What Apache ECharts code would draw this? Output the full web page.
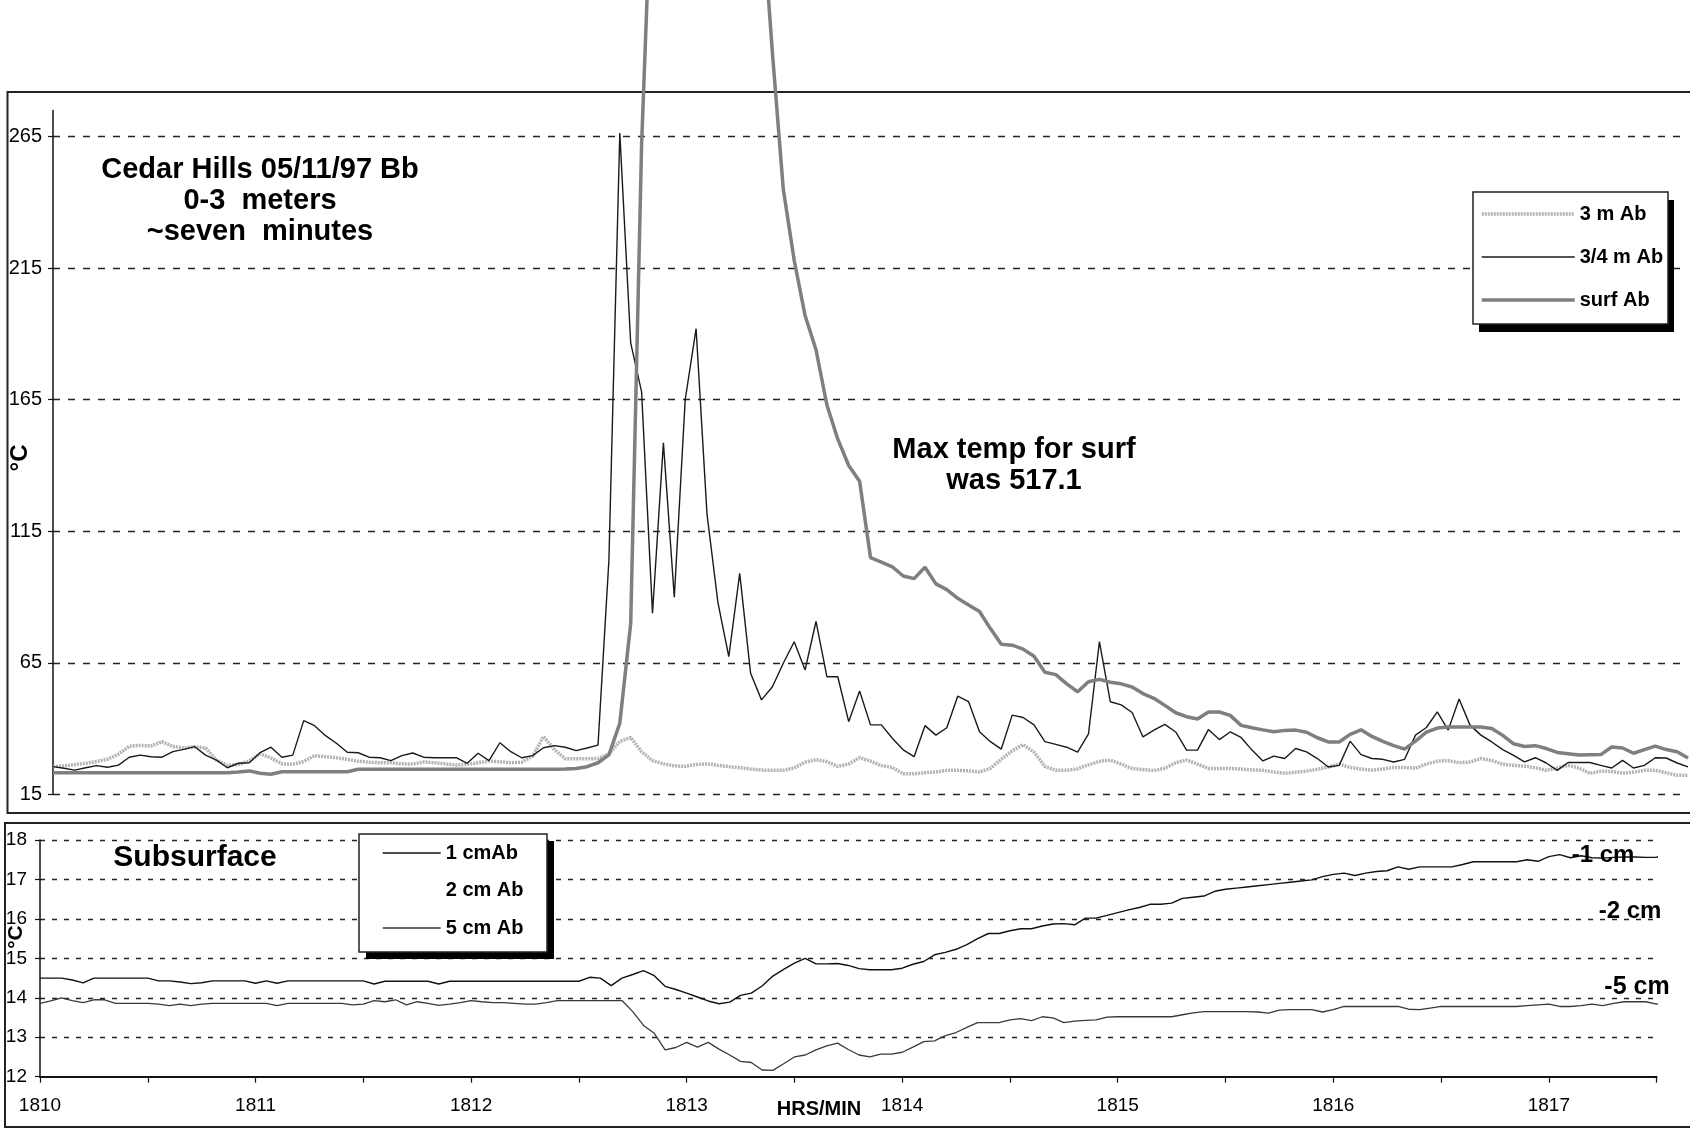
<!DOCTYPE html>
<html>
<head>
<meta charset="utf-8">
<title>Cedar Hills 05/11/97 Bb</title>
<script src="https://cdn.jsdelivr.net/npm/echarts@6/dist/echarts.min.js"></script>
<style>
  html, body { margin: 0; padding: 0; background: #fff; }
  #chart { width: 1690px; height: 1133px; }
</style>
</head>
<body>
<div id="chart"></div>
<script>
// Logger readings: one sample every 3 s starting at 18:10 (HRS/MIN, minutes as decimals)
const START_MIN = 1810;
const STEP_MIN = 0.05;

// Axis ticks and labels
const upperTempTicks = [15, 65, 115, 165, 215, 265];
const timeLabels = [1810, 1811, 1812, 1813, 1814, 1815, 1816, 1817];
const timeTicks = [1810, 1810.5, 1811, 1811.5, 1812, 1812.5, 1813, 1813.5,
                   1814, 1814.5, 1815, 1815.5, 1816, 1816.5, 1817, 1817.5];

// Above-ground probes, °C
const air3m = [
  25.5, 25.8, 26.3, 26.8, 27.5, 28.3, 30.2, 33.3, 33.6, 33.4,
  35.0, 33.2, 32.6, 33.1, 32.6, 28.0, 26.0, 26.3, 27.7, 30.4,
  28.8, 26.6, 26.4, 27.5, 29.7, 29.3, 28.9, 28.3, 27.6, 27.2,
  27.0, 27.0, 26.6, 26.5, 27.3, 27.0, 26.6, 26.1, 26.4, 27.0,
  27.6, 27.4, 27.0, 27.2, 29.5, 37.0, 32.0, 28.5, 28.5, 28.5,
  28.6, 30.4, 35.1, 36.6, 31.2, 27.8, 26.6, 25.8, 25.6, 26.3,
  26.6, 26.0, 25.5, 25.1, 24.6, 24.2, 24.1, 24.1, 25.0, 27.2,
  28.2, 27.4, 25.6, 26.5, 28.9, 27.6, 25.9, 25.2, 22.8, 22.8,
  23.2, 23.5, 24.1, 24.1, 23.9, 23.5, 24.9, 28.3, 31.5, 33.9,
  31.0, 25.6, 24.1, 24.1, 24.7, 26.2, 27.5, 28.0, 26.5, 24.8,
  24.4, 24.0, 24.9, 27.0, 28.0, 26.5, 24.8, 24.8, 24.8, 24.6,
  24.3, 24.1, 23.5, 23.0, 23.4, 23.8, 24.5, 25.4, 26.5, 25.2,
  24.6, 24.2, 24.6, 25.2, 25.2, 24.9, 26.5, 27.6, 27.8, 27.0,
  27.3, 28.6, 27.8, 26.4, 26.0, 25.7, 25.1, 24.1, 25.0, 26.0,
  25.0, 22.9, 23.8, 23.7, 23.0, 23.4, 24.1, 24.1, 23.2, 22.2,
  22.2
];

const air34m = [
  25.5, 24.9, 24.2, 25.1, 25.9, 25.3, 26.1, 29.1, 29.9, 29.3,
  29.1, 31.2, 32.1, 33.1, 29.9, 28.0, 25.1, 26.8, 27.0, 30.8,
  32.9, 29.1, 29.9, 43.0, 41.1, 37.3, 34.4, 31.0, 30.8, 29.1,
  28.9, 27.8, 29.7, 30.7, 29.1, 28.9, 28.9, 28.9, 26.8, 30.6,
  27.8, 34.6, 31.2, 28.9, 29.7, 32.7, 33.5, 32.9, 31.6, 32.6,
  33.7, 104.0, 266.4, 186.6, 168.0, 83.8, 148.6, 89.9, 165.0, 192.0,
  121.5, 88.0, 67.3, 99.0, 61.0, 50.9, 55.9, 64.8, 73.0, 62.3,
  80.7, 59.7, 59.7, 42.6, 54.3, 41.4, 41.4, 36.3, 31.9, 29.3,
  41.1, 37.5, 40.3, 52.3, 50.2, 38.8, 35.0, 32.2, 45.1, 44.2,
  41.4, 35.0, 34.0, 32.9, 31.0, 38.0, 73.0, 50.2, 49.0, 46.1,
  36.8, 39.4, 41.6, 38.7, 31.8, 31.8, 39.6, 35.8, 38.7, 36.6,
  31.8, 27.7, 29.5, 28.6, 32.4, 31.1, 28.6, 25.4, 26.0, 35.2,
  30.1, 28.6, 28.3, 27.3, 28.3, 37.5, 40.4, 46.3, 39.4, 51.2,
  41.3, 37.5, 34.9, 32.0, 29.8, 27.3, 28.9, 26.9, 24.1, 27.1,
  27.1, 27.1, 26.0, 25.0, 27.9, 25.0, 26.0, 28.9, 28.8, 26.9,
  25.4
];

// Surface probe; peak of 517.1 °C runs far above the plotted range
const surface = [
  23.2, 23.2, 23.2, 23.2, 23.2, 23.2, 23.2, 23.2, 23.2, 23.2,
  23.2, 23.2, 23.2, 23.2, 23.2, 23.2, 23.2, 23.5, 23.9, 23.0,
  22.6, 23.6, 23.6, 23.6, 23.6, 23.6, 23.6, 23.6, 24.5, 24.5,
  24.5, 24.5, 24.5, 24.5, 24.5, 24.5, 24.5, 24.5, 24.5, 24.5,
  24.5, 24.5, 24.5, 24.5, 24.5, 24.5, 24.5, 24.6, 24.8, 25.5,
  27.0, 30.0, 42.0, 80.0, 262.0, 373.0, 445.0, 498.0, 517.1, 508.0,
  487.0, 460.0, 430.0, 403.0, 378.0, 354.0, 297.0, 245.0, 218.0, 197.0,
  184.0, 163.0, 150.0, 140.0, 134.0, 105.0, 103.3, 101.5, 98.0, 97.0,
  101.3, 95.0, 92.8, 89.5, 87.0, 84.5, 78.0, 72.0, 71.7, 70.2,
  67.5, 61.4, 60.5, 57.0, 54.0, 57.8, 58.7, 57.6, 57.0, 55.8,
  53.3, 51.5, 48.8, 46.0, 44.5, 43.6, 46.3, 46.3, 45.0, 41.2,
  40.3, 39.5, 38.8, 39.3, 39.4, 38.6, 36.5, 34.9, 34.9, 37.8,
  39.5, 37.0, 35.1, 33.5, 32.2, 35.2, 38.6, 40.2, 40.6, 40.6,
  40.6, 40.6, 40.0, 37.4, 34.2, 33.2, 33.5, 32.4, 30.9, 30.4,
  29.9, 30.0, 30.1, 33.0, 32.6, 30.6, 32.0, 33.3, 32.0, 31.2,
  28.8
];

// Subsurface probes, °C
const soil1cm = [
  14.5, 14.5, 14.5, 14.45, 14.38, 14.5, 14.5, 14.5, 14.5, 14.5,
  14.5, 14.43, 14.43, 14.4, 14.36, 14.38, 14.43, 14.43, 14.43, 14.43,
  14.37, 14.43, 14.37, 14.43, 14.43, 14.43, 14.43, 14.43, 14.43, 14.43,
  14.43, 14.35, 14.42, 14.42, 14.42, 14.42, 14.42, 14.35, 14.42, 14.42,
  14.42, 14.42, 14.42, 14.42, 14.42, 14.42, 14.42, 14.42, 14.42, 14.42,
  14.42, 14.52, 14.5, 14.31, 14.5, 14.59, 14.69, 14.56, 14.29, 14.21,
  14.12, 14.02, 13.92, 13.85, 13.89, 14.06, 14.12, 14.3, 14.55, 14.72,
  14.88, 15.0, 14.86, 14.86, 14.87, 14.82, 14.74, 14.71, 14.71, 14.71,
  14.75, 14.85, 14.92, 15.09, 15.15, 15.23, 15.35, 15.5, 15.63, 15.63,
  15.7, 15.75, 15.75, 15.82, 15.87, 15.88, 15.85, 16.02, 16.02, 16.09,
  16.16, 16.23, 16.29, 16.37, 16.37, 16.4, 16.52, 16.55, 16.58, 16.7,
  16.75, 16.78, 16.81, 16.84, 16.87, 16.9, 16.93, 16.96, 16.99, 17.07,
  17.13, 17.16, 17.1, 17.16, 17.2, 17.22, 17.32, 17.26, 17.32, 17.32,
  17.32, 17.32, 17.38, 17.45, 17.45, 17.45, 17.45, 17.45, 17.5, 17.46,
  17.58, 17.63, 17.55, 17.6, 17.55, 17.54, 17.56, 17.57, 17.57, 17.56,
  17.56, 17.72
];

const soil2cm = []; // no readings for this probe

const soil5cm = [
  13.86, 13.92, 14.0, 13.93, 13.88, 13.95, 13.95, 13.86, 13.86, 13.86,
  13.86, 13.84, 13.8, 13.84, 13.8, 13.84, 13.86, 13.86, 13.86, 13.86,
  13.86, 13.86, 13.8, 13.86, 13.86, 13.86, 13.86, 13.86, 13.86, 13.82,
  13.84, 13.93, 13.9, 13.95, 13.82, 13.9, 13.86, 13.81, 13.84, 13.88,
  13.93, 13.9, 13.88, 13.88, 13.86, 13.84, 13.84, 13.88, 13.93, 13.93,
  13.93, 13.93, 13.93, 13.93, 13.93, 13.65, 13.3, 13.1, 12.68, 12.74,
  12.87, 12.75, 12.87, 12.7, 12.55, 12.39, 12.36, 12.17, 12.16, 12.33,
  12.5, 12.55, 12.68, 12.78, 12.85, 12.69, 12.55, 12.5, 12.57, 12.57,
  12.62, 12.75, 12.89, 12.91, 13.04, 13.12, 13.25, 13.37, 13.37, 13.37,
  13.44, 13.47, 13.42, 13.52, 13.49, 13.37, 13.41, 13.43, 13.44, 13.51,
  13.52, 13.52, 13.52, 13.52, 13.52, 13.52, 13.57, 13.62, 13.65, 13.65,
  13.65, 13.65, 13.65, 13.64, 13.61, 13.69, 13.7, 13.7, 13.7, 13.64,
  13.7, 13.78, 13.78, 13.78, 13.78, 13.78, 13.78, 13.71, 13.7, 13.74,
  13.78, 13.78, 13.78, 13.78, 13.78, 13.78, 13.78, 13.78, 13.8, 13.82,
  13.84, 13.78, 13.78, 13.8, 13.84, 13.8, 13.86, 13.9, 13.9, 13.9,
  13.84, 13.9
];

const FONT = '"Liberation Sans", Arial, sans-serif';

// line looks shared by the plotted series and their legend samples
const look3m   = { color: '#b3b3b3', width: 3.5, type: [2, 1] };
const look34m  = { color: '#1a1a1a', width: 1.4, type: 'solid' };
const lookSurf = { color: '#7f7f7f', width: 3.5, type: 'solid' };
const look1cm  = { color: '#111111', width: 1.4, type: 'solid' };
const look2cm  = { color: 'rgba(0,0,0,0)', width: 1.4, type: 'solid' };
const look5cm  = { color: '#3a3a3a', width: 1.3, type: 'solid' };

// attach the reading time to each sample
const timed = vals => vals.map((v, i) => [Math.round((START_MIN + i * STEP_MIN) * 100) / 100, v]);

const gridDash = { color: '#222', width: 1.3, type: [7, 8] };

function label(text, x, y, size, extra) {
  return Object.assign({
    type: 'text', z: 6, x: x, y: y,
    style: {
      text: text, font: 'bold ' + size + 'px ' + FONT, fill: '#000',
      align: 'center', verticalAlign: 'middle',
      textAlign: 'center', textVerticalAlign: 'middle'
    }
  }, extra || {});
}

function lineSeries(name, axis, values, look, clip) {
  return {
    name: name, type: 'line', xAxisIndex: axis, yAxisIndex: axis, data: timed(values),
    symbol: 'none', color: look.color, clip: clip, lineStyle: look
  };
}

const legendText = { fontFamily: FONT, fontWeight: 'bold', fontSize: 20, color: '#000' };

const chart = echarts.init(document.getElementById('chart'), null, { renderer: 'canvas' });

chart.setOption({
  animation: false,
  backgroundColor: '#ffffff',
  grid: [
    { left: 53, right: 2, top: 110.4, bottom: 338.7, outerBoundsMode: 'none', containLabel: false },
    { left: 40, right: 33.4, top: 840, bottom: 56.3, outerBoundsMode: 'none', containLabel: false }
  ],
  xAxis: [
    { gridIndex: 0, type: 'value', min: 1810, max: 1817.5, show: false },
    {
      gridIndex: 1, type: 'value', min: 1810, max: 1817.5,
      axisLine: { show: true, lineStyle: { color: '#111', width: 2 } },
      axisTick: { show: true, customValues: timeTicks, length: 6, lineStyle: { color: '#111', width: 1.2 } },
      axisLabel: {
        customValues: timeLabels, margin: 20, fontSize: 19, fontFamily: FONT, color: '#000',
        formatter: v => String(Math.round(v))
      },
      splitLine: { show: false }
    }
  ],
  yAxis: [
    {
      gridIndex: 0, type: 'value', min: 15, max: 275,
      axisLine: { show: true, lineStyle: { color: '#111', width: 1.5 } },
      axisTick: { show: true, customValues: upperTempTicks, length: 5, lineStyle: { color: '#111', width: 1.2 } },
      axisLabel: { customValues: upperTempTicks, margin: 11, fontSize: 20, fontFamily: FONT, color: '#000' },
      splitLine: { show: true, lineStyle: gridDash }
    },
    {
      gridIndex: 1, type: 'value', min: 12, max: 18, interval: 1,
      axisLine: { show: true, lineStyle: { color: '#111', width: 1.5 } },
      axisTick: { show: true, length: 5, lineStyle: { color: '#111', width: 1.2 } },
      axisLabel: { margin: 13, fontSize: 19, fontFamily: FONT, color: '#000' },
      splitLine: { show: true, showMinLine: false, lineStyle: { color: '#222', width: 1.3, type: [5, 7] } }
    }
  ],
  legend: [
    {
      data: [
        { name: '3 m Ab', lineStyle: look3m },
        { name: '3/4 m Ab', lineStyle: look34m },
        { name: 'surf Ab', lineStyle: lookSurf }
      ],
      orient: 'vertical', left: 1480, top: 204, padding: 0,
      itemWidth: 93, itemHeight: 14, itemGap: 23, selectedMode: false, z: 5,
      itemStyle: { opacity: 0 },
      textStyle: legendText
    },
    {
      data: [
        { name: '1 cmAb', lineStyle: look1cm },
        { name: '2 cm Ab', lineStyle: look2cm },
        { name: '5 cm Ab', lineStyle: look5cm }
      ],
      orient: 'vertical', left: 382, top: 843, padding: 0,
      itemWidth: 58, itemHeight: 14, itemGap: 17.5, selectedMode: false, z: 5,
      itemStyle: { opacity: 0 },
      textStyle: legendText
    }
  ],
  series: [
    lineSeries('3 m Ab', 0, air3m, look3m, true),
    lineSeries('3/4 m Ab', 0, air34m, look34m, false),
    lineSeries('surf Ab', 0, surface, lookSurf, false),
    lineSeries('1 cmAb', 1, soil1cm, look1cm, false),
    lineSeries('2 cm Ab', 1, soil2cm, look2cm, true),
    lineSeries('5 cm Ab', 1, soil5cm, look5cm, false)
  ],
  graphic: [
    // panel frames
    { type: 'rect', z: 1, silent: true, shape: { x: 7.5, y: 92, width: 1700, height: 721 },
      style: { fill: 'none', stroke: '#222', lineWidth: 2 } },
    { type: 'rect', z: 1, silent: true, shape: { x: 5, y: 823, width: 1700, height: 304 },
      style: { fill: 'none', stroke: '#222', lineWidth: 2 } },
    // legend boxes with hard drop shadows
    { type: 'rect', z: 3, silent: true, shape: { x: 1479, y: 200, width: 195, height: 132 }, style: { fill: '#000' } },
    { type: 'rect', z: 3, silent: true, shape: { x: 1473, y: 192, width: 195, height: 132 },
      style: { fill: '#fff', stroke: '#222', lineWidth: 1.5 } },
    { type: 'rect', z: 3, silent: true, shape: { x: 366, y: 841, width: 188, height: 118 }, style: { fill: '#000' } },
    { type: 'rect', z: 3, silent: true, shape: { x: 359, y: 834, width: 188, height: 118 },
      style: { fill: '#fff', stroke: '#222', lineWidth: 1.5 } },
    // annotations
    label('Cedar Hills 05/11/97 Bb', 260, 170, 29),
    label('0-3  meters', 260, 201, 29),
    label('~seven  minutes', 260, 232, 29),
    label('Max temp for surf', 1014, 450, 29),
    label('was 517.1', 1014, 481, 29),
    label('Subsurface', 195, 858, 30),
    label('-1 cm', 1603, 855, 24),
    label('-2 cm', 1630, 911, 24),
    label('-5 cm', 1637, 987, 25),
    label('HRS/MIN', 819, 1109, 20),
    label('°C', 20, 458, 24, { rotation: Math.PI / 2 }),
    label('°C', 16, 937, 21, { rotation: Math.PI / 2 })
  ]
});
</script>
</body>
</html>
